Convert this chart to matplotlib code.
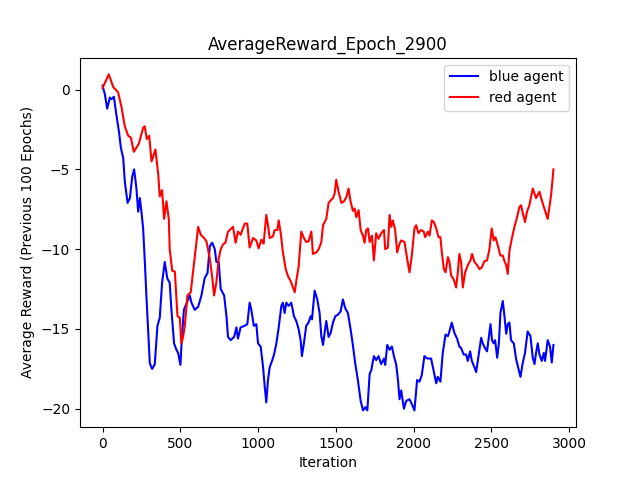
import matplotlib
matplotlib.use("Agg")
import matplotlib.pyplot as plt

red_iter = [0, 40, 69, 100, 122, 143, 165, 182, 201, 233, 261, 271, 285, 300, 315, 340, 358, 368, 383, 396,
            411, 426, 432, 448, 465, 482, 497, 507, 518, 529, 546, 567, 589, 615, 632, 653, 668, 690, 707, 717,
            732, 747, 760, 775, 790, 807, 828, 839, 856, 871, 888, 914, 931, 946, 968, 989, 1004, 1021, 1036, 1053,
            1064, 1075, 1096, 1107, 1124, 1133, 1146, 1160, 1178, 1193, 1210, 1225, 1236, 1246, 1261, 1278, 1295, 1310, 1325, 1343,
            1353, 1375, 1390, 1407, 1418, 1439, 1454, 1471, 1482, 1493, 1503, 1518, 1536, 1553, 1568, 1582, 1595, 1610, 1621, 1632,
            1647, 1660, 1675, 1685, 1696, 1707, 1718, 1733, 1745, 1760, 1775, 1792, 1810, 1818, 1835, 1846, 1857, 1867, 1882, 1895,
            1910, 1921, 1942, 1959, 1974, 1989, 2006, 2017, 2032, 2049, 2066, 2075, 2092, 2103, 2118, 2131, 2146, 2161, 2173, 2182,
            2195, 2206, 2221, 2231, 2242, 2259, 2274, 2285, 2295, 2306, 2317, 2332, 2349, 2366, 2377, 2392, 2409, 2424, 2439, 2456,
            2473, 2488, 2503, 2516, 2527, 2542, 2559, 2574, 2585, 2596, 2606, 2617, 2632, 2649, 2666, 2681, 2692, 2702, 2717, 2730,
            2745, 2767, 2788, 2810, 2821, 2838, 2863, 2885, 2900]
red_reward = [0.1, 0.95, 0.15, -0.17, -1.1, -2.3, -2.9, -3.0, -3.9, -3.4, -2.4, -2.3, -3.1, -2.9, -4.5, -3.75, -5.3, -6.7, -6.3, -8.1,
              -7.0, -8.1, -10.0, -11.35, -11.4, -14.2, -14.3, -15.9, -15.5, -14.8, -12.9, -12.7, -10.8, -8.6, -9.1, -9.3, -9.5, -10.6, -11.9, -12.9,
              -12.1, -10.6, -10.0, -9.7, -9.6, -8.9, -8.7, -8.6, -9.6, -8.9, -9.1, -8.4, -8.4, -9.9, -9.3, -9.45, -9.95, -9.4, -9.66, -7.85,
              -8.5, -9.3, -9.2, -8.8, -8.8, -8.2, -9.0, -10.2, -11.25, -11.7, -12.0, -12.4, -12.7, -12.0, -11.1, -8.9, -9.3, -9.55, -9.5, -8.9,
              -10.3, -10.2, -10.0, -9.55, -8.5, -8.1, -7.1, -6.9, -6.8, -6.5, -5.65, -6.4, -7.1, -7.0, -6.75, -6.2, -7.0, -7.6, -7.45, -8.0,
              -7.55, -8.8, -9.15, -9.6, -8.8, -8.7, -9.55, -9.15, -10.7, -9.0, -9.35, -9.0, -8.8, -10.0, -9.9, -7.85, -8.6, -8.2, -8.8, -10.2,
              -9.66, -9.45, -9.55, -10.6, -11.45, -10.4, -8.7, -8.5, -9.0, -8.8, -8.9, -9.25, -8.9, -9.15, -8.2, -8.3, -8.7, -9.25, -9.25, -10.2,
              -11.25, -11.45, -10.5, -10.8, -11.65, -11.9, -12.4, -11.45, -10.3, -10.8, -12.4, -11.45, -11.0, -10.7, -10.3, -10.8, -11.0, -11.25, -11.15, -10.75,
              -10.7, -10.0, -8.7, -9.45, -9.25, -9.77, -10.4, -10.4, -10.75, -11.0, -11.55, -10.1, -9.35, -8.6, -8.0, -7.35, -7.25, -7.7, -8.3, -7.65,
              -7.25, -6.2, -6.8, -6.4, -6.8, -7.35, -8.1, -6.6, -5.0]

blue_iter = [0, 15, 30, 47, 58, 73, 90, 105, 118, 133, 143, 161, 176, 191, 203, 218, 229, 240, 250, 261,
             272, 282, 293, 304, 319, 336, 353, 368, 383, 400, 417, 432, 443, 460, 475, 486, 501, 507, 523, 540,
             561, 572, 593, 615, 636, 657, 675, 690, 705, 722, 732, 747, 760, 782, 797, 807, 824, 846, 861, 871,
             888, 914, 931, 946, 957, 973, 989, 1000, 1017, 1032, 1043, 1053, 1064, 1075, 1090, 1103, 1118, 1133, 1150, 1160,
             1171, 1182, 1197, 1214, 1231, 1246, 1261, 1274, 1282, 1295, 1310, 1325, 1338, 1347, 1364, 1381, 1396, 1407, 1418, 1428,
             1439, 1454, 1467, 1482, 1497, 1514, 1531, 1546, 1561, 1578, 1595, 1610, 1625, 1642, 1660, 1675, 1690, 1703, 1718, 1728,
             1745, 1760, 1775, 1792, 1810, 1818, 1831, 1846, 1861, 1874, 1889, 1900, 1910, 1921, 1938, 1953, 1974, 1989, 2006, 2023,
             2038, 2053, 2070, 2088, 2113, 2131, 2146, 2156, 2173, 2188, 2206, 2221, 2231, 2246, 2263, 2280, 2295, 2306, 2323, 2338,
             2349, 2364, 2375, 2392, 2403, 2418, 2435, 2445, 2460, 2473, 2488, 2495, 2505, 2516, 2525, 2538, 2549, 2559, 2574, 2585,
             2596, 2606, 2617, 2627, 2645, 2660, 2674, 2688, 2702, 2717, 2734, 2752, 2767, 2778, 2788, 2799, 2810, 2825, 2838, 2846,
             2863, 2878, 2889, 2900]
blue_reward = [0.25, -0.3, -1.2, -0.5, -0.6, -0.45, -1.65, -2.6, -3.65, -4.3, -5.75, -7.1, -6.8, -5.45, -5.0, -6.2, -7.65, -6.8, -7.65, -8.7,
               -10.8, -12.9, -15.0, -17.15, -17.5, -17.2, -14.8, -14.3, -12.1, -10.8, -11.85, -12.1, -13.8, -15.9, -16.3, -16.5, -17.25, -16.1, -13.8, -13.4,
               -12.9, -13.35, -13.8, -13.6, -12.9, -11.8, -11.5, -9.8, -9.6, -10.0, -10.8, -10.8, -12.5, -12.9, -14.2, -15.5, -15.7, -15.5, -14.9, -15.6,
               -14.9, -14.8, -14.7, -13.35, -13.8, -14.8, -14.7, -15.9, -16.1, -17.35, -18.6, -19.6, -18.2, -17.4, -17.0, -16.6, -15.9, -14.9, -13.55, -13.35,
               -14.0, -13.35, -13.55, -13.35, -14.2, -14.5, -15.0, -15.7, -16.7, -15.9, -14.8, -14.6, -14.2, -14.4, -12.6, -13.15, -14.0, -15.45, -16.0, -15.25,
               -14.5, -15.5, -15.25, -14.6, -14.2, -14.1, -13.9, -13.15, -13.7, -14.0, -15.0, -16.0, -17.15, -18.2, -19.5, -20.1, -19.9, -20.1, -17.8, -17.6,
               -16.7, -16.95, -16.7, -17.2, -16.85, -17.25, -16.0, -16.3, -16.1, -16.7, -17.25, -18.2, -19.4, -18.85, -20.0, -19.5, -19.4, -19.7, -20.1, -18.2,
               -18.3, -17.9, -16.7, -16.85, -16.85, -17.7, -18.4, -18.0, -18.3, -16.5, -15.35, -15.45, -15.15, -14.6, -15.25, -15.6, -16.1, -16.2, -16.6, -16.6,
               -17.0, -16.4, -17.0, -17.4, -17.7, -16.7, -15.55, -15.9, -16.2, -16.4, -15.25, -14.7, -15.7, -15.9, -15.7, -16.8, -15.9, -14.0, -13.25, -14.2,
               -15.3, -14.7, -14.6, -15.7, -15.9, -16.9, -17.45, -18.0, -17.15, -16.5, -15.15, -15.45, -16.8, -17.2, -16.5, -15.9, -16.6, -17.0, -16.5, -17.0,
               -15.7, -16.1, -17.1, -16.0]

fig, ax = plt.subplots(figsize=(6.4, 4.8), dpi=100)
ax.plot(blue_iter, blue_reward, color="blue", label="blue agent", linewidth=1.5)
ax.plot(red_iter, red_reward, color="red", label="red agent", linewidth=1.5)
ax.set_title("AverageReward_Epoch_2900")
ax.set_xlabel("Iteration")
ax.set_ylabel("Average Reward (Previous 100 Epochs)")
ax.legend(loc="upper right")
fig.savefig("out.png", dpi=100)
